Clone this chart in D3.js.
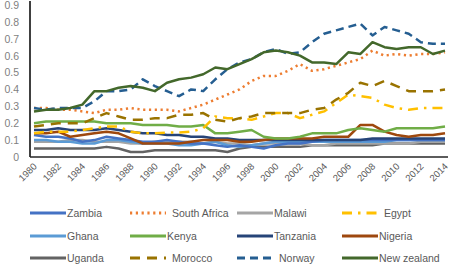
<!DOCTYPE html>
<html>
<head>
<meta charset="utf-8"/>
<script src="https://d3js.org/d3.v7.min.js"></script>
<style>
    body { margin: 0; background: #fff; }
    text { font-family: "Liberation Sans", "DejaVu Sans", sans-serif; fill: #595959; }
</style>
</head>
<body>
<svg width="450" height="265"></svg>
<script>
    // años y valores
    const years = d3.range(1980, 2015);
    const yTicks = [0, 0.1, 0.2, 0.3, 0.4, 0.5, 0.6, 0.7, 0.8, 0.9];
    const xTicks = d3.range(1980, 2015, 2);

    const zambia = [0.13,0.12,0.12,0.11,0.09,0.10,0.12,0.11,0.10,0.09,0.09,0.10,0.09,0.08,0.08,0.07,0.06,0.07,0.06,0.05,0.07,0.08,0.08,0.09,0.10,0.10,0.10,0.10,0.10,0.10,0.10,0.10,0.10,0.10,0.10];
    const southAfrica = [0.29,0.29,0.28,0.28,0.27,0.26,0.28,0.28,0.29,0.28,0.28,0.28,0.27,0.29,0.31,0.34,0.37,0.40,0.45,0.48,0.48,0.51,0.55,0.51,0.52,0.54,0.56,0.58,0.63,0.60,0.61,0.60,0.61,0.61,0.62];
    const malawi = [0.09,0.09,0.09,0.10,0.10,0.09,0.09,0.09,0.08,0.08,0.09,0.09,0.09,0.09,0.08,0.09,0.08,0.08,0.07,0.08,0.08,0.08,0.08,0.07,0.07,0.08,0.08,0.08,0.08,0.08,0.08,0.08,0.09,0.09,0.09];
    const egypt = [0.14,0.15,0.15,0.15,0.16,0.17,0.18,0.18,0.15,0.14,0.14,0.145,0.145,0.15,0.17,0.24,0.23,0.23,0.22,0.24,0.26,0.26,0.23,0.25,0.27,0.32,0.37,0.36,0.35,0.31,0.29,0.28,0.29,0.29,0.29];
    const ghana = [0.10,0.10,0.09,0.09,0.08,0.08,0.10,0.10,0.09,0.08,0.08,0.08,0.07,0.07,0.08,0.09,0.07,0.06,0.07,0.08,0.09,0.09,0.09,0.09,0.09,0.09,0.09,0.09,0.09,0.09,0.10,0.10,0.10,0.10,0.10];
    const kenya = [0.20,0.21,0.21,0.21,0.21,0.21,0.20,0.20,0.20,0.19,0.19,0.19,0.18,0.18,0.19,0.14,0.14,0.15,0.16,0.12,0.11,0.11,0.12,0.14,0.14,0.14,0.16,0.17,0.16,0.15,0.17,0.17,0.17,0.17,0.18];
    const tanzania = [0.16,0.16,0.17,0.16,0.16,0.16,0.17,0.16,0.15,0.14,0.14,0.13,0.13,0.12,0.12,0.11,0.11,0.10,0.10,0.10,0.10,0.10,0.10,0.10,0.10,0.10,0.10,0.10,0.11,0.11,0.11,0.11,0.11,0.11,0.11];
    const nigeria = [0.14,0.14,0.15,0.12,0.13,0.14,0.15,0.14,0.11,0.08,0.08,0.08,0.08,0.09,0.10,0.10,0.10,0.09,0.09,0.10,0.11,0.11,0.11,0.11,0.12,0.12,0.12,0.19,0.19,0.15,0.13,0.12,0.13,0.13,0.14];
    const uganda = [0.05,0.05,0.05,0.05,0.05,0.05,0.06,0.05,0.03,0.03,0.04,0.04,0.04,0.04,0.04,0.04,0.03,0.05,0.06,0.06,0.06,0.06,0.06,0.07,0.07,0.07,0.07,0.07,0.07,0.08,0.08,0.08,0.08,0.08,0.08];
    const morocco = [0.18,0.19,0.20,0.20,0.20,0.23,0.26,0.24,0.22,0.22,0.23,0.23,0.25,0.25,0.26,0.22,0.21,0.23,0.24,0.26,0.26,0.26,0.26,0.28,0.29,0.34,0.38,0.44,0.42,0.45,0.42,0.39,0.39,0.39,0.40];
    const norway = [0.29,0.28,0.29,0.29,0.29,0.33,0.39,0.39,0.40,0.46,0.42,0.39,0.36,0.40,0.39,0.46,0.52,0.56,0.58,0.62,0.64,0.61,0.62,0.68,0.73,0.75,0.77,0.79,0.72,0.77,0.75,0.73,0.68,0.67,0.67];
    const newZealand = [0.27,0.28,0.28,0.29,0.31,0.39,0.39,0.41,0.42,0.41,0.39,0.44,0.46,0.47,0.49,0.53,0.52,0.55,0.58,0.62,0.63,0.62,0.60,0.56,0.56,0.55,0.62,0.61,0.68,0.65,0.64,0.65,0.65,0.61,0.63];

    // series en el orden de la leyenda (por filas)
    const series = [
        {name: "Zambia", values: zambia, color: "#4472c4", dash: null},
        {name: "South Africa", values: southAfrica, color: "#ed7d31", dash: "2.2 3.6"},
        {name: "Malawi", values: malawi, color: "#a5a5a5", dash: null},
        {name: "Egypt", values: egypt, color: "#ffc000", dash: "10 6 2.5 6"},
        {name: "Ghana", values: ghana, color: "#5b9bd5", dash: null},
        {name: "Kenya", values: kenya, color: "#70ad47", dash: null},
        {name: "Tanzania", values: tanzania, color: "#264478", dash: null},
        {name: "Nigeria", values: nigeria, color: "#9e480e", dash: null},
        {name: "Uganda", values: uganda, color: "#636363", dash: null},
        {name: "Morocco", values: morocco, color: "#997300", dash: "10 7"},
        {name: "Norway", values: norway, color: "#255e91", dash: "8 5"},
        {name: "New zealand", values: newZealand, color: "#43682b", dash: null}
    ];

    // orden de dibujo: las ultimas quedan encima
    const drawOrder = ["Uganda", "Malawi", "Ghana", "Zambia", "Tanzania", "Nigeria", "Kenya", "Egypt", "Morocco", "South Africa", "Norway", "New zealand"];

    const svg = d3.select("svg");

    const x = d3.scaleLinear().domain([1980, 2014]).range([34, 445]);
    const y = d3.scaleLinear().domain([0, 0.9]).range([157, 5]);

    // eje y
    const yAxis = d3.axisLeft(y)
        .tickValues(yTicks)
        .tickSize(0)
        .tickPadding(11)
        .tickFormat(d => d === 0 ? "0" : d3.format(".1f")(d));

    svg.append("g")
        .attr("transform", "translate(30,0)")
        .style("font-size", "10.5px")
        .call(yAxis)
        .call(g => g.select(".domain").attr("d", "M0,1V157").attr("stroke", "#000").attr("stroke-width", 1.5))
        .call(g => g.selectAll(".tick text").style("fill", "#7f7f7f"));

    // eje x
    const xAxis = d3.axisBottom(x)
        .tickValues(xTicks)
        .tickSize(0)
        .tickFormat(d => d);

    const gx = svg.append("g")
        .attr("transform", "translate(0,157)")
        .style("font-size", "9.5px")
        .call(xAxis);
    gx.select(".domain").attr("d", "M30,0H448").attr("stroke", "#262626").attr("stroke-width", 1.4);
    gx.selectAll(".tick text")
        .attr("y", 0)
        .attr("dy", 0)
        .attr("transform", "translate(3,10) rotate(-45)")
        .style("text-anchor", "end");

    // lineas
    const line = d3.line()
        .x((d, i) => x(years[i]))
        .y(d => y(d));

    svg.append("g")
        .selectAll("path")
        .data(drawOrder.map(n => series.find(s => s.name === n)))
        .join("path")
        .attr("d", d => line(d.values))
        .attr("fill", "none")
        .attr("stroke", d => d.color)
        .attr("stroke-width", 2.5)
        .attr("stroke-linejoin", "round")
        .attr("stroke-dasharray", d => d.dash);

    // leyenda
    const colX = [30, 130, 237, 342];
    const rowY = [213, 236, 258];

    const legend = svg.append("g")
        .selectAll("g")
        .data(series)
        .join("g")
        .attr("transform", (d, i) => "translate(" + colX[i % 4] + "," + rowY[Math.floor(i / 4)] + ")");

    legend.append("line")
        .attr("x1", 0).attr("x2", 36)
        .attr("stroke", d => d.color)
        .attr("stroke-width", 2.8)
        .attr("stroke-dasharray", d => d.dash);

    legend.append("text")
        .attr("x", d => d.dash ? 42 : 37)
        .attr("y", 4)
        .style("font-size", "10.5px")
        .text(d => d.name);
</script>
</body>
</html>
